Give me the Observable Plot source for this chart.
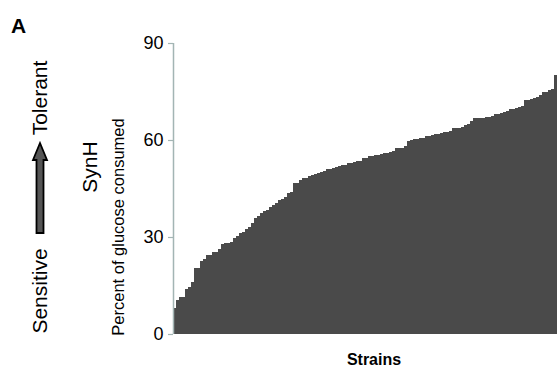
<!DOCTYPE html>
<html>
<head>
<meta charset="utf-8">
<script src="https://cdn.jsdelivr.net/npm/d3@7"></script>
<script src="https://cdn.jsdelivr.net/npm/@observablehq/plot@0.6"></script>
<style>
  html, body { margin: 0; padding: 0; background: #fff; }
  #chart { width: 557px; height: 373px; }
</style>
</head>
<body>
<div id="chart"></div>
<script>
// Percent of glucose consumed in SynH, one value per strain, sorted ascending
const glucoseConsumed = [
  8, 10.5, 11.3, 11.5, 13.8, 14.6, 16, 20.3, 20.3, 22.7,
  23.1, 24.4, 24.4, 25.5, 25.5, 26.2, 27.8, 28, 28.2, 28.3,
  29.6, 30.3, 31.1, 31.5, 32.5, 33.2, 34.2, 35.8, 36.5, 37.3,
  38.1, 38.3, 39.4, 40, 40.4, 41.4, 41.6, 42.3, 43.5, 44,
  46.6, 46.8, 47.6, 48.2, 48.4, 48.9, 49.1, 49.5, 49.7, 50.2,
  50.4, 50.9, 51, 51.3, 51.7, 51.9, 52.3, 52.4, 52.8, 52.9,
  53.1, 53.4, 53.6, 54.3, 54.4, 54.9, 55, 55.4, 55.5, 55.6,
  55.9, 56, 56.4, 56.6, 57.4, 57.5, 57.6, 58.2, 59.7, 59.9,
  60.3, 60.4, 60.5, 60.6, 61.2, 61.3, 61.5, 61.9, 62, 62.3,
  62.4, 62.5, 62.9, 63.6, 63.7, 63.8, 64, 64.6, 64.8, 66,
  66.7, 66.7, 66.8, 66.8, 67, 67.2, 67.3, 67.9, 68, 68.2,
  68.8, 69, 69.6, 69.7, 69.9, 70.3, 70.5, 72.4, 72.5, 72.6,
  72.9, 73.2, 73.9, 74.9, 75, 75.4, 75.8, 80.1
];
const yTicks = [0, 30, 60, 90];
const xLabel = "Strains";
const yLabelTop = "SynH";
const yLabelBottom = "Percent of glucose consumed";
const panelLabel = "A";
const lowLabel = "Sensitive";
const highLabel = "Tolerant";

const bars = glucoseConsumed.map((v, i) => ({i, v}));
const FONT = "'Liberation Sans', Arial, sans-serif";
const axisColor = "#a3b5b4";

const plot = Plot.plot({
  width: 557,
  height: 373,
  marginLeft: 173,
  marginRight: 0,
  marginTop: 43,
  marginBottom: 39,
  style: {fontFamily: FONT, background: "#fff", color: "#000"},
  x: {domain: [0, glucoseConsumed.length], axis: null},
  y: {domain: [0, 90], axis: null},
  marks: [
    Plot.rectY(bars, {x1: "i", x2: d => d.i + 1, y1: 0, y2: "v", fill: "#4a4a4a", shapeRendering: "crispEdges"}),
    Plot.ruleX([0], {y1: 0, y2: 90, stroke: axisColor, strokeWidth: 1.5}),
    Plot.axisY({ticks: yTicks, tickSize: 5, tickPadding: 5, fontSize: 18, stroke: axisColor, strokeWidth: 1.2, label: null, color: "#000"}),
  ]
});
document.getElementById("chart").appendChild(plot);

const svg = d3.select(plot);

function label(str, x, y, size, opts = {}) {
  const t = svg.append("text").text(str)
    .attr("transform", opts.rotate ? `translate(${x},${y}) rotate(-90)` : `translate(${x},${y})`)
    .attr("text-anchor", opts.anchor || "middle")
    .attr("fill", "#000")
    .style("font-family", FONT)
    .style("font-size", size + "px")
    .style("font-weight", opts.bold ? "bold" : "normal");
  return t;
}

// Panel label
label(panelLabel, 11, 33, 21, {bold: true, anchor: "start"});
// x-axis title
label(xLabel, 374, 365, 16, {bold: true});
// y-axis titles (rotated)
label(yLabelTop, 97, 167, 21, {rotate: true});
label(yLabelBottom, 124, 227, 16.5, {rotate: true});
label(lowLabel, 47, 291, 21, {rotate: true});
label(highLabel, 47, 98, 21, {rotate: true});

// Arrow from Sensitive to Tolerant
svg.append("path")
  .attr("d", "M36.5,233 L36.5,160 L33,160 L40,143 L47,160 L43.5,160 L43.5,233 Z")
  .attr("fill", "#555").attr("stroke", "#000").attr("stroke-width", 1.8).attr("stroke-linejoin", "miter");
</script>
</body>
</html>
